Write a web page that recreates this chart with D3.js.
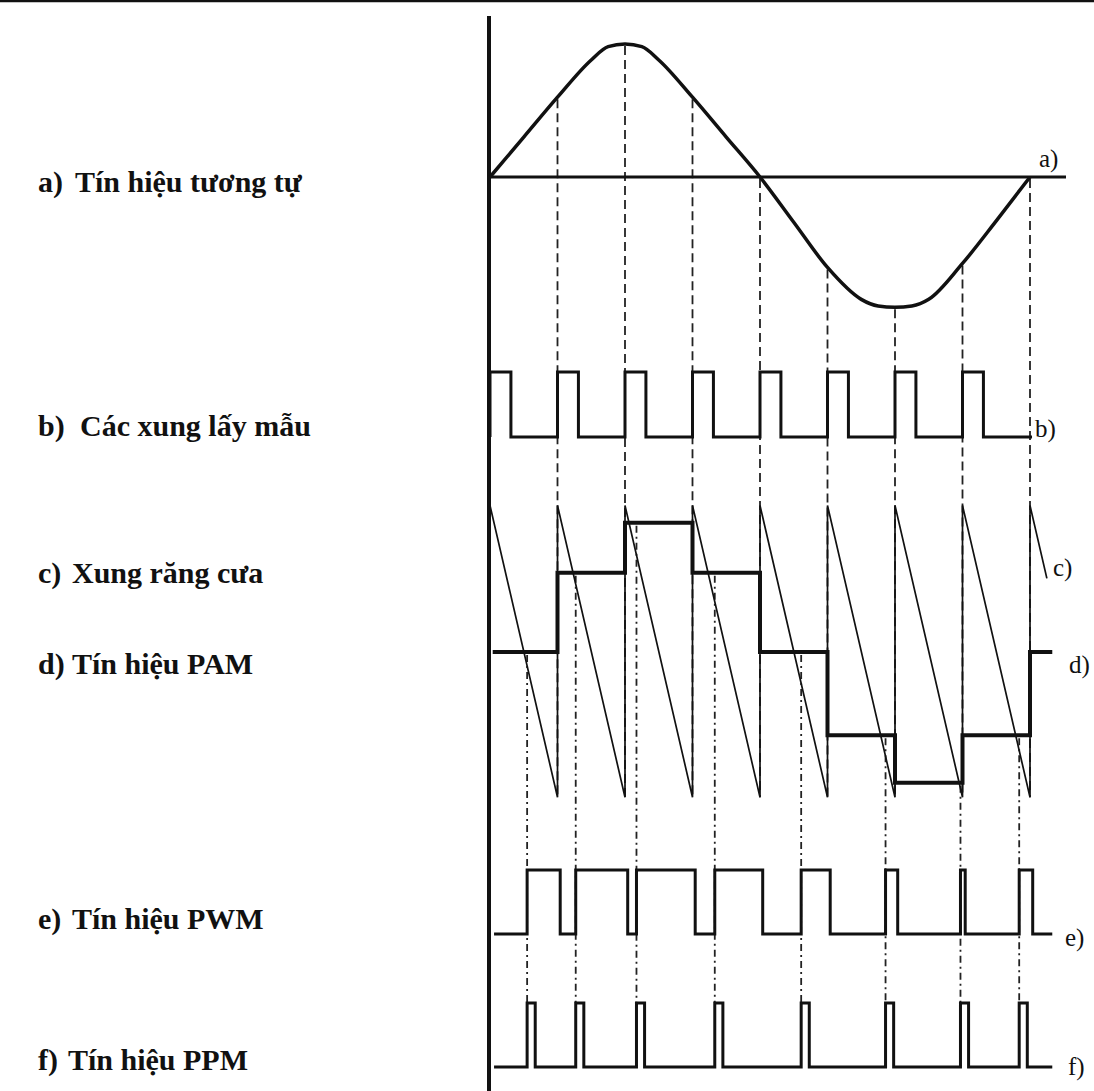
<!DOCTYPE html>
<html>
<head>
<meta charset="utf-8">
<script src="https://cdn.jsdelivr.net/npm/d3@7"></script>
<style>
  body { margin: 0; background: #fff; }
  svg { display: block; }
</style>
</head>
<body>
<svg id="chart" width="1094" height="1091"></svg>
<script>
// Sampling instants, in sample periods
const sampleIndex = [0, 1, 2, 3, 4, 5, 6, 7, 8];

// Analog message: time (sample periods) and normalised amplitude
const analogTime  = [0, 0.5, 1, 1.5, 1.75, 2, 2.25, 2.5, 3, 3.5, 4, 4.5, 5, 5.5, 5.75, 6, 6.25, 6.5, 7, 7.5, 8];
const analogValue = [0, 0.30, 0.60, 0.88, 0.98, 1.0, 0.98, 0.88, 0.60, 0.30, 0, -0.34, -0.68, -0.92, -0.97, -0.98, -0.97, -0.92, -0.65, -0.33, 0];

// Held sample amplitude of each period (PAM), last entry is the tail after t = 8
const pamLevel = [0, 0.6, 0.98, 0.6, 0, -0.63, -0.99, -0.63, 0];

// Sawtooth ramp extremes, in the same amplitude units as the PAM trace
const rampHigh = 1.11;
const rampLow = -1.10;

// Instant where the ramp meets the held level, as a fraction of each period
const crossFraction = [0.55, 0.27, 0.17, 0.33, 0.61, 0.86, 0.97, 0.84];

// Pulse widths, in sample periods
const samplePulseWidth = 0.31;
const ppmPulseWidth = 0.12;
const pwmTrail = 0.04;

// Text
const leftTags = ["a)", "b)", "c)", "d)", "e)", "f)"];
const leftTexts = [
  "Tín hiệu tương tự",
  "Các xung lấy mẫu",
  "Xung răng cưa",
  "Tín hiệu PAM",
  "Tín hiệu PWM",
  "Tín hiệu PPM"
];
const traceTags = ["a)", "b)", "c)", "d)", "e)", "f)"];

// ---------------------------------------------------------------------------
const svg = d3.select("#chart");
const W = 1094, H = 1091;
const INK = "#111";

// Shared time axis
const x = d3.scaleLinear().domain([0, 8]).range([490, 1030]);

// One vertical scale per trace
const yA = d3.scaleLinear().domain([-1, 1]).range([310, 44]);
const yB = d3.scaleLinear().domain([0, 1]).range([437, 372]);
const yP = d3.scaleLinear().domain([-1, 1]).range([784, 520]);
const yE = d3.scaleLinear().domain([0, 1]).range([934, 870]);
const yF = d3.scaleLinear().domain([0, 1]).range([1067, 1003]);

const lineOf = (ys) => d3.line().x(d => x(d[0])).y(d => ys(d[1]));

// Frame: top rule and the common time origin
svg.append("line")
  .attr("x1", 0).attr("x2", W).attr("y1", 1).attr("y2", 1)
  .attr("stroke", INK).attr("stroke-width", 2.5);
svg.append("line")
  .attr("x1", 489).attr("x2", 489).attr("y1", 16).attr("y2", H)
  .attr("stroke", INK).attr("stroke-width", 4);

const guides = svg.append("g")
  .attr("stroke", "#222").attr("stroke-width", 1.8)
  .attr("stroke-dasharray", "9,5").attr("fill", "none");

// Sample-instant guides, from the analog curve down to the bottom of the ramp
const analogAt = t => analogValue[analogTime.indexOf(t)];
guides.selectAll("line.sample")
  .data(sampleIndex.filter(k => k > 0))
  .join("line")
  .attr("class", "sample")
  .attr("x1", k => x(k)).attr("x2", k => x(k))
  .attr("y1", k => yA(analogAt(k)) + 2)
  .attr("y2", yP(rampLow));

// Comparison-instant guides, from the held level down to the PPM pulses
guides.selectAll("line.cross")
  .data(crossFraction.map((c, k) => ({ k, t: k + c })))
  .join("line")
  .attr("class", "cross")
  .attr("stroke-dasharray", "7,4,2,4")
  .attr("x1", d => x(d.t)).attr("x2", d => x(d.t))
  .attr("y1", d => yP(pamLevel[d.k]) + 3)
  .attr("y2", yF(1));

// a) analog signal and its zero line
svg.append("line")
  .attr("x1", x(0)).attr("x2", 1066).attr("y1", yA(0)).attr("y2", yA(0))
  .attr("stroke", INK).attr("stroke-width", 3);
svg.append("path")
  .datum(analogTime.map((t, i) => [t, analogValue[i]]))
  .attr("d", lineOf(yA).curve(d3.curveMonotoneX))
  .attr("fill", "none").attr("stroke", INK).attr("stroke-width", 3.5)
  .attr("stroke-linejoin", "round");

// b) sampling pulses
const bPts = [];
sampleIndex.slice(0, 8).forEach(k => {
  bPts.push([k, 0], [k, 1], [k + samplePulseWidth, 1], [k + samplePulseWidth, 0]);
});
bPts.push([8.03, 0]);
svg.append("path")
  .datum(bPts)
  .attr("d", lineOf(yB))
  .attr("fill", "none").attr("stroke", INK).attr("stroke-width", 3);

// c) sawtooth ramp, restarting at every sample instant
const cPts = [[0, rampHigh]];
sampleIndex.slice(0, 8).forEach(k => {
  cPts.push([k + 1, rampLow], [k + 1, rampHigh]);
});
cPts.push([8.25, rampHigh - (rampHigh - rampLow) * 0.25]);
svg.append("path")
  .datum(cPts)
  .attr("d", lineOf(yP))
  .attr("fill", "none").attr("stroke", INK).attr("stroke-width", 1.7);

// d) PAM: each sample held for one period
const dPts = [];
sampleIndex.slice(0, 8).forEach(k => {
  dPts.push([k + (k === 0 ? 0.04 : 0), pamLevel[k]], [k + 1, pamLevel[k]]);
});
dPts.push([8, pamLevel[8]], [8.33, pamLevel[8]]);
svg.append("path")
  .datum(dPts)
  .attr("d", lineOf(yP))
  .attr("fill", "none").attr("stroke", INK).attr("stroke-width", 4);

// e) PWM: high from the comparison instant to the end of the period
const ePts = [[0.06, 0]];
crossFraction.forEach((c, k) => {
  ePts.push([k + c, 0], [k + c, 1], [k + 1 + pwmTrail, 1], [k + 1 + pwmTrail, 0]);
});
ePts.push([8.33, 0]);
svg.append("path")
  .datum(ePts)
  .attr("d", lineOf(yE))
  .attr("fill", "none").attr("stroke", INK).attr("stroke-width", 3);

// f) PPM: a narrow pulse at each comparison instant
const fPts = [[0.06, 0]];
crossFraction.forEach((c, k) => {
  fPts.push([k + c, 0], [k + c, 1], [k + c + ppmPulseWidth, 1], [k + c + ppmPulseWidth, 0]);
});
fPts.push([8.33, 0]);
svg.append("path")
  .datum(fPts)
  .attr("d", lineOf(yF))
  .attr("fill", "none").attr("stroke", INK).attr("stroke-width", 3);

// Trace tags at the right end of each trace
const tagPos = [[1039, 167], [1035, 437], [1053, 576], [1069, 673], [1065, 946], [1068, 1075]];
svg.append("g")
  .attr("font-family", "'Liberation Serif', 'Times New Roman', serif")
  .attr("font-size", 25).attr("fill", INK)
  .selectAll("text").data(traceTags).join("text")
  .attr("x", (d, i) => tagPos[i][0]).attr("y", (d, i) => tagPos[i][1])
  .text(d => d);

// Descriptive labels on the left: tag, then description
const labelY = [192, 436, 583, 674, 929, 1070];
const bodyX = [75, 80, 72, 72, 72, 68];
const labels = svg.append("g")
  .attr("font-family", "'Liberation Serif', 'Times New Roman', serif")
  .attr("font-weight", "bold").attr("font-size", 30).attr("fill", INK)
  .selectAll("text").data(leftTexts).join("text")
  .attr("y", (d, i) => labelY[i]);
labels.append("tspan").attr("x", 38).text((d, i) => leftTags[i]);
labels.append("tspan").attr("x", (d, i) => bodyX[i]).text(d => d);
</script>
</body>
</html>
